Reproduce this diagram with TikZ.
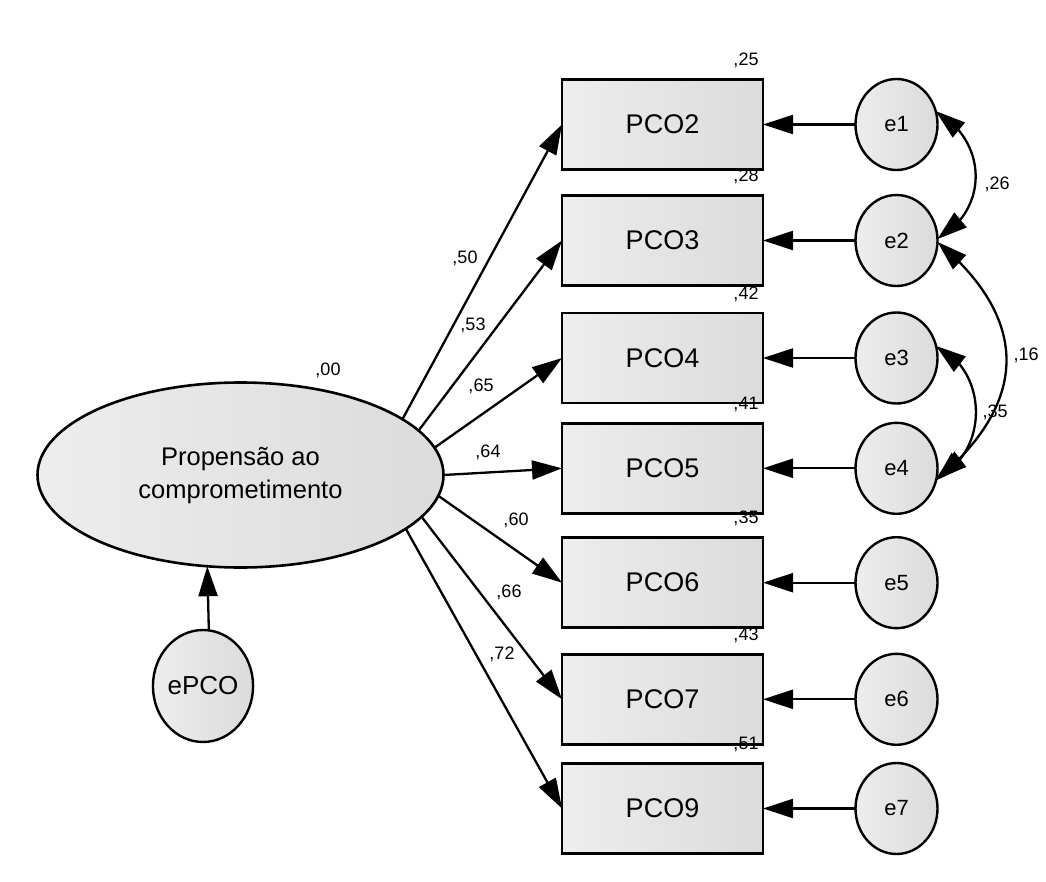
\documentclass[tikz,border=0pt]{standalone}
\usepackage{fontspec}
\setmainfont{Liberation Sans}
\usetikzlibrary{shapes.geometric,arrows.meta,bending}

\begin{document}
\begin{tikzpicture}[x=1pt,y=1pt,
  every node/.style={inner sep=0pt, outer sep=0pt},
  gfill/.style={left color=black!7, right color=black!14},
  obs/.style={gfill, draw, rectangle, line width=2.8pt,
    minimum width=201pt, minimum height=90pt,
    font=\fontsize{27}{30}\selectfont},
  err/.style={gfill, draw, ellipse, line width=2.4pt,
    minimum width=82pt, minimum height=91pt,
    font=\fontsize{22}{24}\selectfont},
  lat/.style={gfill, draw, ellipse, line width=2.6pt,
    minimum width=406pt, minimum height=185pt, align=center,
    font=\fontsize{25.5}{33}\selectfont},
  est/.style={font=\fontsize{18}{20}\selectfont},
  tip/.style={-{Triangle[length=30pt,width=19pt]}},
  arr/.style={line width=2.3pt, tip},
  cov/.style={line width=2.3pt,
    {Triangle[length=30pt,width=19pt]}-{Triangle[length=30pt,width=19pt]}},
]
\useasboundingbox[fill=white] (0,0) rectangle (1046,-882);

% latent factor and its residual
\node[lat] (F) at (240.5,-475) {Propensão ao\\comprometimento};
\node[err, minimum width=99pt, minimum height=112pt,
  font=\fontsize{26}{28}\selectfont] (ePCO) at (203,-686) {ePCO};
\draw[arr] (ePCO.84) -- (F.250);
\node[est] at (328,-370) {,00};

% indicators
\node[obs] (PCO2) at (662.5,-124.5) {PCO2};
\node[obs] (PCO3) at (662.5,-240.5) {PCO3};
\node[obs] (PCO4) at (662.5,-358)   {PCO4};
\node[obs] (PCO5) at (662.5,-468.3) {PCO5};
\node[obs] (PCO6) at (662.5,-582.7) {PCO6};
\node[obs] (PCO7) at (662.5,-699.3) {PCO7};
\node[obs] (PCO9) at (662.5,-808.5) {PCO9};

% squared multiple correlations
\foreach \v/\r in {PCO2/25,PCO3/28,PCO4/42,PCO5/41,PCO6/35,PCO7/43,PCO9/51}
  \node[est] at ([shift={(-17,19)}]\v.north east) {,\r};

% measurement errors
\node[err] (e1) at (896.5,-124.5) {e1};
\node[err] (e2) at (896.5,-240.5) {e2};
\node[err] (e3) at (896.5,-358)   {e3};
\node[err] (e4) at (896.5,-468.3) {e4};
\node[err] (e5) at (896.5,-582.7) {e5};
\node[err] (e6) at (896.5,-699.3) {e6};
\node[err] (e7) at (896.5,-808.5) {e7};

\foreach \e/\v in {e1/PCO2,e2/PCO3,e3/PCO4,e4/PCO5,e5/PCO6,e6/PCO7,e7/PCO9}
  \draw[arr] (\e.west) -- (\v.east);

% factor loadings
\draw[arr] (F.19)  -- (PCO2.west);
\draw[arr] (F.14)  -- (PCO3.west);
\draw[arr] (F.8)   -- (PCO4.west);
\draw[arr] (F.0)   -- (PCO5.west);
\draw[arr] (F.354) -- (PCO6.west);
\draw[arr] (F.347) -- (PCO7.west);
\draw[arr] (F.342) -- (PCO9.west);

\node[est] at (465,-258) {,50};
\node[est] at (473,-325) {,53};
\node[est] at (481,-386) {,65};
\node[est] at (488,-452) {,64};
\node[est] at (516,-520) {,60};
\node[est] at (509,-592) {,66};
\node[est] at (502,-654) {,72};

% error covariances
\draw[cov] (e1.19) to[out=-30,in=30,looseness=1.2] (e2.2);
\draw[cov] (e3.17) to[out=-25,in=25,looseness=1.13] (e4.347);
\draw[cov] (e2.358) to[out=-40,in=40,looseness=1.3] (e4.343);

\node[est] at (997,-184) {,26};
\node[est] at (1026,-355) {,16};
\node[est] at (995,-412) {,35};
\end{tikzpicture}
\end{document}
